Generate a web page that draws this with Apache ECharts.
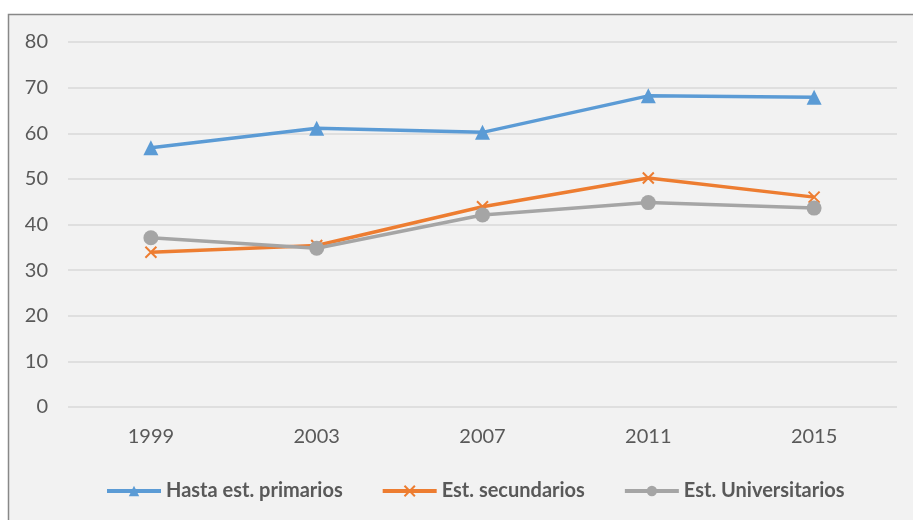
<!DOCTYPE html>
<html>
<head>
<meta charset="utf-8">
<script src="https://cdn.jsdelivr.net/npm/echarts@6/dist/echarts.min.js"></script>
<style>
html,body{margin:0;padding:0;background:#fff;}
#c{width:913px;height:520px;}
</style>
</head>
<body>
<div id="c"></div>
<script>
const years = ['1999', '2003', '2007', '2011', '2015'];
const primarios = [56.8, 61.1, 60.2, 68.2, 67.9];
const secundarios = [33.9, 35.4, 43.9, 50.2, 46.0];
const universitarios = [37.1, 34.8, 42.1, 44.8, 43.6];
const seriesNames = ['Hasta est. primarios', 'Est. secundarios', 'Est. Universitarios'];
const yTicks = [0, 10, 20, 30, 40, 50, 60, 70, 80];

const chart = echarts.init(document.getElementById('c'), null, {renderer: 'canvas'});
const font = 'Lato, "Open Sans", sans-serif';
const crossPath = 'path://M0,0L10,10M10,0L0,10';
function mk(name, data, color, symbol, size, extra) {
  return Object.assign({
    name: name,
    type: 'line',
    data: data,
    symbol: symbol,
    symbolSize: size,
    lineStyle: {color: color, width: 3.5},
    itemStyle: {color: color},
    animation: false
  }, extra || {});
}
chart.setOption({
  backgroundColor: '#fff',
  animation: false,
  graphic: [{
    type: 'rect',
    z: -10,
    shape: {x: 8.5, y: 14.5, width: 920, height: 520},
    style: {fill: '#f2f2f2', stroke: '#888888', lineWidth: 1.5}
  }],
  grid: {left: 68, right: 16, top: 42, bottom: 113, containLabel: false},
  xAxis: {
    type: 'category',
    data: years,
    boundaryGap: true,
    axisLine: {show: false},
    axisTick: {show: false},
    axisLabel: {color: '#595959', fontSize: 20, fontFamily: font, margin: 20}
  },
  yAxis: {
    type: 'value',
    min: yTicks[0],
    max: yTicks[yTicks.length - 1],
    interval: 10,
    axisLine: {show: false},
    axisTick: {show: false},
    axisLabel: {color: '#595959', fontSize: 20, fontFamily: font, margin: 20},
    splitLine: {lineStyle: {color: '#d9d9d9', width: 1.5}}
  },
  legend: {
    bottom: 14,
    left: 100,
    itemWidth: 54,
    itemHeight: 13,
    itemGap: 38,
    lineStyle: {width: 4},
    textStyle: {color: '#595959', fontSize: 20, fontWeight: 'bold', fontFamily: font},
    data: seriesNames
  },
  series: [
    mk(seriesNames[0], primarios, '#5b9bd5', 'triangle', 15),
    mk(seriesNames[1], secundarios, '#ed7d31', crossPath, 11, {itemStyle: {color: '#ed7d31', borderColor: '#ed7d31', borderWidth: 2}}),
    mk(seriesNames[2], universitarios, '#a5a5a5', 'circle', 15)
  ]
});
</script>
</body>
</html>
